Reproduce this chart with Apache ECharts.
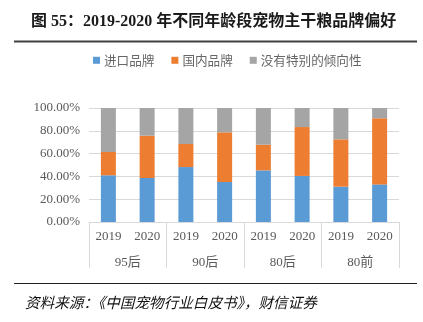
<!DOCTYPE html>
<html>
<head>
<meta charset="utf-8">
<script src="https://cdn.jsdelivr.net/npm/echarts@6/dist/echarts.min.js"></script>
<style>
html,body{margin:0;padding:0;background:#fff;}
#chart{width:423px;height:322px;}
</style>
</head>
<body>
<div id="chart"></div>
<script>
var years = ['2019','2020','2019','2020','2019','2020','2019','2020'];
var groups = ['95后','90后','80后','80前'];
var seriesNames = ['进口品牌','国内品牌','没有特别的倾向性'];
var importBrand = [41.0, 38.6, 48.2, 35.1, 45.3, 40.4, 31.0, 33.0];
var domesticBrand = [20.4, 37.1, 20.2, 43.6, 22.5, 42.9, 41.5, 58.0];
var noPreference = [38.6, 24.3, 31.6, 21.3, 32.2, 16.7, 27.5, 9.0];
var yTicks = [0, 20, 40, 60, 80, 100];

var colors = ['#5B9BD5', '#ED7D31', '#A5A5A5'];
var labelFont = '"Liberation Serif", "Noto Sans CJK SC", serif';

var chart = echarts.init(document.getElementById('chart'));
var dataSets = [importBrand, domesticBrand, noPreference];
var series = dataSets.map(function (d, i) {
  return {
    name: seriesNames[i],
    type: 'bar',
    stack: 'total',
    barWidth: 15,
    xAxisIndex: 0,
    data: d,
    itemStyle: { color: colors[i] },
    emphasis: { disabled: true }
  };
});

chart.setOption({
  animation: false,
  backgroundColor: '#fff',
  title: {
    text: '图 55：2019-2020 年不同年龄段宠物主干粮品牌偏好',
    left: 26,
    top: 9,
    textStyle: {
      fontFamily: '"Liberation Serif", "Noto Sans CJK SC", serif',
      fontSize: 16,
      fontWeight: 'bold',
      color: '#1a1a1a'
    }
  },
  legend: {
    data: seriesNames,
    left: 88,
    top: 49,
    itemWidth: 7,
    itemHeight: 7,
    itemGap: 17,
    icon: 'rect',
    textStyle: {
      fontFamily: '"Noto Sans CJK SC", sans-serif',
      fontSize: 12.6,
      color: '#666',
      padding: [0, 0, 0, -1]
    }
  },
  grid: { left: 89, right: 24, top: 108, bottom: 100 },
  xAxis: [
    {
      type: 'category',
      data: years,
      position: 'bottom',
      axisLine: { show: true, lineStyle: { color: '#d9d9d9', width: 1 } },
      axisTick: { show: false },
      axisLabel: { margin: 8, fontFamily: labelFont, fontSize: 13, color: '#595959' },
      splitLine: { show: false }
    },
    {
      type: 'category',
      data: groups,
      position: 'bottom',
      offset: 0,
      axisLine: { show: false },
      axisTick: { show: true, alignWithLabel: false, length: 46, inside: false, lineStyle: { color: '#d9d9d9', width: 1 } },
      axisLabel: { margin: 34, fontFamily: labelFont, fontSize: 13, color: '#595959' },
      splitLine: { show: false }
    }
  ],
  yAxis: {
    type: 'value',
    min: yTicks[0],
    max: yTicks[yTicks.length - 1],
    interval: 20,
    axisLine: { show: false },
    axisTick: { show: false },
    axisLabel: {
      margin: 9,
      fontFamily: labelFont,
      fontSize: 13,
      color: '#595959',
      formatter: function (v) { return v.toFixed(2) + '%'; }
    },
    splitLine: { lineStyle: { color: '#d9d9d9', width: 1 } }
  },
  series: series.concat([{
    type: 'bar',
    xAxisIndex: 1,
    data: groups.map(function () { return null; }),
    silent: true
  }]),
  graphic: [
    { type: 'line', shape: { x1: 14, y1: 41.5, x2: 417, y2: 41.5 }, style: { stroke: '#404040', lineWidth: 2 } },
    { type: 'line', shape: { x1: 14, y1: 283.5, x2: 417, y2: 283.5 }, style: { stroke: '#222', lineWidth: 1 } },
    {
      type: 'text', left: 25, top: 295,
      style: {
        text: '资料来源：《中国宠物行业白皮书》，财信证券',
        fontFamily: '"Noto Sans CJK SC", sans-serif',
        fontStyle: 'italic',
        fontSize: 14.6,
        fill: '#111'
      }
    }
  ]
});
</script>
</body>
</html>
